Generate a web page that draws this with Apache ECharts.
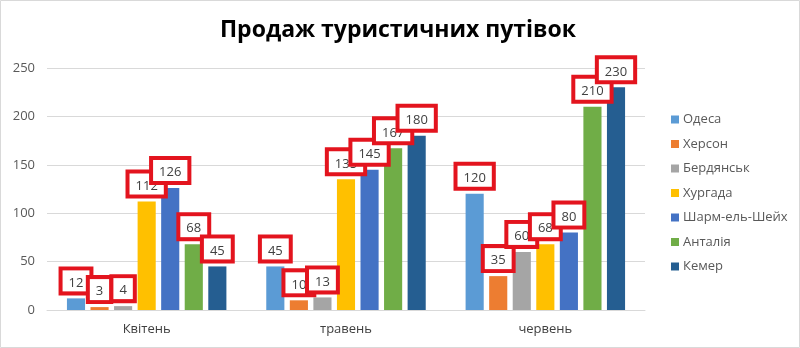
<!DOCTYPE html>
<html><head><meta charset="utf-8">
<script src="https://cdn.jsdelivr.net/npm/echarts@6/dist/echarts.min.js"></script>
<style>html,body{margin:0;padding:0;background:#fff}#c{width:800px;height:348px}</style>
</head><body><div id="c"></div>
<script>
var categories = ['Квітень', 'травень', 'червень'];
var seriesNames = ['Одеса', 'Херсон', 'Бердянськ', 'Хургада', 'Шарм-ель-Шейх', 'Анталія', 'Кемер'];
var odesa = [12, 45, 120];
var kherson = [3, 10, 35];
var berdiansk = [4, 13, 60];
var hurghada = [112, 135, 68];
var sharm = [126, 145, 80];
var antalya = [68, 167, 210];
var kemer = [45, 180, 230];
var colors = ['#5B9BD5', '#ED7D31', '#A5A5A5', '#FFC000', '#4472C4', '#70AD47', '#255E91'];
var allData = [odesa, kherson, berdiansk, hurghada, sharm, antalya, kemer];
var fontFam = '"Open Sans", "Noto Sans", sans-serif';

var series = seriesNames.map(function (n, i) {
  return {
    name: n, type: 'bar', data: allData[i],
    barCategoryGap: '20%', barGap: '30%',
    itemStyle: { color: colors[i] },
    label: {
      show: true, position: 'top', distance: 7,
      color: '#404040', fontSize: 13, fontFamily: fontFam,
      backgroundColor: '#fff', borderColor: '#e3141e', borderWidth: 4,
      padding: [6, 6, 2, 6]
    }
  };
});

var chart = echarts.init(document.getElementById('c'));
chart.setOption({
  animation: false,
  title: {
    text: 'Продаж туристичних путівок', left: 393, top: 14, textAlign: 'center',
    textStyle: { fontSize: 23, fontWeight: 'bold', color: '#000', fontFamily: fontFam }
  },
  legend: {
    orient: 'vertical', left: 666, top: 108, itemGap: 11.5,
    itemWidth: 8, itemHeight: 8, icon: 'rect',
    textStyle: { fontSize: 13, color: '#595959', fontFamily: fontFam, padding: [0, 0, 0, -1] }
  },
  grid: { left: 47, right: 155, top: 68, bottom: 38 },
  xAxis: {
    type: 'category', data: categories,
    axisLine: { lineStyle: { color: '#d9d9d9' } },
    axisTick: { show: false },
    axisLabel: { color: '#404040', fontSize: 13, fontFamily: fontFam, margin: 13 }
  },
  yAxis: {
    type: 'value', min: 0, max: 250, interval: 50,
    axisLine: { show: false }, axisTick: { show: false },
    splitLine: { lineStyle: { color: '#d9d9d9' } },
    axisLabel: { color: '#595959', fontSize: 13, fontFamily: fontFam, margin: 12 }
  },
  graphic: [{
    type: 'rect', shape: { x: 0.5, y: 0.5, width: 799, height: 347 },
    style: { fill: 'none', stroke: '#d9d9d9', lineWidth: 1 }, silent: true
  }],
  series: series
});
</script></body></html>
